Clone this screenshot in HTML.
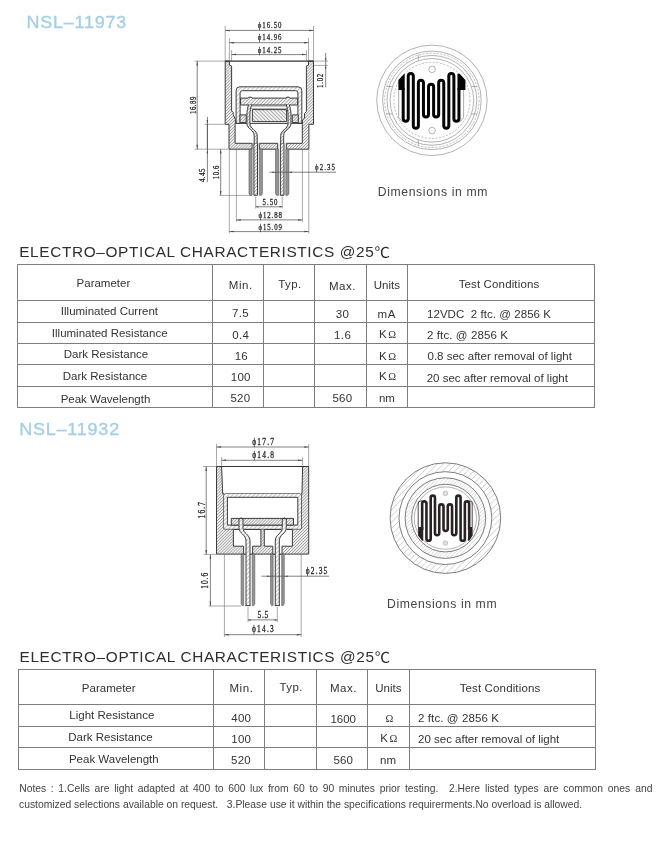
<!DOCTYPE html>
<html lang="en"><head><meta charset="utf-8"><title>NSL-11973 / NSL-11932 photocell datasheet</title>
<style>
html,body{margin:0;padding:0;background:#fff;}
#page{will-change:transform;position:relative;width:668px;height:847px;overflow:hidden;background:#fff;
 font-family:"Liberation Sans","Noto Sans CJK SC",sans-serif;color:#333;}
.abs{position:absolute;white-space:nowrap;margin:0;font-weight:normal;}
h1.model{font-size:18px;line-height:20px;color:#a3cfe5;-webkit-text-stroke:.35px #a3cfe5;letter-spacing:.78px;transform:scaleY(.9);transform-origin:left top;}
h2.sec{font-size:15.4px;line-height:18px;color:#2e2e2e;letter-spacing:.63px;transform:scaleY(.92);transform-origin:left top;}
p.cap{font-size:12.2px;line-height:16px;color:#444;letter-spacing:.62px;}
table.spec{position:absolute;border-collapse:collapse;table-layout:fixed;font-size:11.5px;color:#333;}
table.spec td,table.spec th{border:1px solid #7d7d7d;padding:0;font-weight:normal;text-align:center;vertical-align:top;overflow:hidden;white-space:nowrap;}
table.spec td span,table.spec th span{position:relative;display:inline-block;}
table.spec td.l{text-align:left;}
.om{font-family:"Liberation Serif","DejaVu Serif",serif;font-size:10.5px;}
p.notes{font-size:10.33px;line-height:16.5px;color:#444;}
p.notes .j{position:absolute;top:0;white-space:normal;text-align:justify;text-align-last:justify;}
svg{position:absolute;left:0;top:0;overflow:visible;}
svg text{font-family:"Liberation Serif","DejaVu Serif",serif;fill:#444;}
</style></head>
<body><div id="page">
<h1 class="abs model" id="m1" style="left:26.4px;top:13.7px">NSL–11973</h1>
<svg id="d1" width="668" height="847" viewBox="0 0 668 847"><style>
.o{stroke:#3c3c3c;stroke-width:1;fill:none;stroke-linejoin:round;stroke-linecap:round}
.ot{stroke:#333;stroke-width:1.15;fill:none}
.t{stroke:#666;stroke-width:.55;fill:none}
.d{stroke:#4c4c4c;stroke-width:.7;fill:none}
.e{stroke:#707070;stroke-width:.6;fill:none}
.ah{fill:#444;stroke:none}
.h{stroke:#3c3c3c;stroke-width:1;fill:url(#hx);stroke-linejoin:round}
.h2{stroke:#3c3c3c;stroke-width:1;fill:url(#hy);stroke-linejoin:round}
.hd{stroke:#555;stroke-width:.6;fill:url(#hz)}
.h3{stroke:#3c3c3c;stroke-width:1;fill:url(#hw);stroke-linejoin:round}
.hcan{stroke:#3c3c3c;stroke-width:1;fill:url(#hc);stroke-linejoin:round}
.w{stroke:#3c3c3c;stroke-width:1;fill:#fff;stroke-linejoin:round}
.dt{font-family:"Liberation Serif","DejaVu Serif",serif;fill:#262626;stroke:#262626;stroke-width:.3}
.c{stroke:#808080;stroke-width:.6;fill:none}
.cd{stroke:#8a8a8a;stroke-width:.55;fill:none;stroke-dasharray:2.2 1.4}
.s1{stroke:#050505;stroke-width:3;fill:none;stroke-linejoin:round;stroke-linecap:butt}
.s1p{fill:#050505;stroke:none}
.s2{stroke:#2a2122;stroke-width:2.6;fill:none;stroke-linejoin:round;stroke-linecap:butt}
.s2p{fill:#2a2122;stroke:none}
.c2{stroke:#5c5c5c;stroke-width:.8;fill:none}
.t2{stroke:#2a2122;stroke-width:.85;fill:none}
</style><defs>
<pattern id="hx" width="2.1" height="2.1" patternUnits="userSpaceOnUse" patternTransform="rotate(-45)"><rect width="2.1" height="2.1" fill="#eeeeee"/><line x1="0" y1="1.05" x2="2.1" y2="1.05" stroke="#909090" stroke-width=".6"/></pattern>
<pattern id="hy" width="2.4" height="2.4" patternUnits="userSpaceOnUse" patternTransform="rotate(-45)"><rect width="2.4" height="2.4" fill="#f4f4f4"/><line x1="0" y1="1.2" x2="2.4" y2="1.2" stroke="#8a8a8a" stroke-width=".6"/></pattern>
<pattern id="hz" width="1.5" height="1.5" patternUnits="userSpaceOnUse" patternTransform="rotate(45)"><rect width="1.5" height="1.5" fill="#b4b4b4"/><line x1="0" y1=".75" x2="1.5" y2=".75" stroke="#666" stroke-width=".6"/></pattern>
<pattern id="hc" width="3" height="3" patternUnits="userSpaceOnUse" patternTransform="rotate(-45)"><rect width="3" height="3" fill="#fafafa"/><line x1="0" y1="1.5" x2="3" y2="1.5" stroke="#9a9a9a" stroke-width=".55"/></pattern>
<pattern id="hw" width="2.6" height="2.6" patternUnits="userSpaceOnUse" patternTransform="rotate(45)"><rect width="2.6" height="2.6" fill="#f2f2f2"/><line x1="0" y1="1.3" x2="2.6" y2="1.3" stroke="#888" stroke-width=".6"/></pattern>
</defs>
<line class="e" x1="225.2" y1="26" x2="225.2" y2="61"/>
<line class="e" x1="313.5" y1="26" x2="313.5" y2="61"/>
<line class="e" x1="229.4" y1="38" x2="229.4" y2="61"/>
<line class="e" x1="308.5" y1="38" x2="308.5" y2="61"/>
<line class="e" x1="231.6" y1="50" x2="231.6" y2="61"/>
<line class="e" x1="306.4" y1="50" x2="306.4" y2="61"/>
<line class="d" x1="225.2" y1="30.4" x2="313.5" y2="30.4"/>
<path class="ah" d="M225.2 30.4 L229.6 29.65 L229.6 31.15 Z"/>
<path class="ah" d="M313.5 30.4 L309.1 29.65 L309.1 31.15 Z"/>
<text class="dt" font-size="9.2" text-anchor="middle" textLength="31.89" lengthAdjust="spacing" transform="translate(269.6 28) scale(0.74 1)">ϕ16.50</text>
<line class="d" x1="229.4" y1="42.7" x2="308.5" y2="42.7"/>
<path class="ah" d="M229.4 42.7 L233.8 41.95 L233.8 43.45 Z"/>
<path class="ah" d="M308.5 42.7 L304.1 41.95 L304.1 43.45 Z"/>
<text class="dt" font-size="9.2" text-anchor="middle" textLength="31.89" lengthAdjust="spacing" transform="translate(269.6 40.4) scale(0.74 1)">ϕ14.96</text>
<line class="d" x1="231.6" y1="54.6" x2="306.4" y2="54.6"/>
<path class="ah" d="M231.6 54.6 L236 53.85 L236 55.35 Z"/>
<path class="ah" d="M306.4 54.6 L302 53.85 L302 55.35 Z"/>
<text class="dt" font-size="9.2" text-anchor="middle" textLength="31.89" lengthAdjust="spacing" transform="translate(269.6 52.7) scale(0.74 1)">ϕ14.25</text>
<line class="e" x1="313.6" y1="61.1" x2="328" y2="61.1"/>
<line class="e" x1="313.6" y1="65.4" x2="328" y2="65.4"/>
<line class="d" x1="325.7" y1="53" x2="325.7" y2="87.4"/>
<path class="ah" d="M325.7 61.1 L325 57.9 L326.4 57.9 Z"/>
<path class="ah" d="M325.7 65.4 L325 68.6 L326.4 68.6 Z"/>
<text class="dt" font-size="9.2" text-anchor="middle" textLength="19.19" lengthAdjust="spacing" transform="translate(323.2 80.9) rotate(-90) scale(0.74 1)">1.02</text>
<line class="e" x1="194.5" y1="61.1" x2="225" y2="61.1"/>
<line class="e" x1="194.5" y1="149.2" x2="228.5" y2="149.2"/>
<line class="d" x1="197.2" y1="61.1" x2="197.2" y2="149.2"/>
<path class="ah" d="M197.2 61.1 L196.45 65.5 L197.95 65.5 Z"/>
<path class="ah" d="M197.2 149.2 L196.45 144.8 L197.95 144.8 Z"/>
<text class="dt" font-size="9.2" text-anchor="middle" textLength="23.51" lengthAdjust="spacing" transform="translate(195.5 105.3) rotate(-90) scale(0.74 1)">16.89</text>
<line class="e" x1="204.5" y1="124.3" x2="225" y2="124.3"/>
<line class="e" x1="219.5" y1="195.4" x2="252" y2="195.4"/>
<line class="d" x1="207.4" y1="124.3" x2="207.4" y2="149.2"/>
<path class="ah" d="M207.4 124.3 L206.65 119.9 L208.15 119.9 Z"/>
<path class="ah" d="M207.4 149.2 L206.65 153.6 L208.15 153.6 Z"/>
<line class="d" x1="207.4" y1="116.8" x2="207.4" y2="182"/>
<text class="dt" font-size="9.2" text-anchor="middle" textLength="18.38" lengthAdjust="spacing" transform="translate(205.4 175.3) rotate(-90) scale(0.74 1)">4.45</text>
<line class="d" x1="220.7" y1="149.2" x2="220.7" y2="195.4"/>
<path class="ah" d="M220.7 149.2 L219.95 153.6 L221.45 153.6 Z"/>
<path class="ah" d="M220.7 195.4 L219.95 191 L221.45 191 Z"/>
<text class="dt" font-size="9.2" text-anchor="middle" textLength="18.38" lengthAdjust="spacing" transform="translate(218.7 172.5) rotate(-90) scale(0.74 1)">10.6</text>
<path class="h" d="M225.2 61.1 L229.4 61.1 L229.4 65.2 L231.6 66 L231.6 110.8 L233.2 112.4 L233.2 114.6 L235.4 119.4 L235.4 123.4 L235.1 124.3 L235.1 143.3 L252.1 143.3 L252.1 149.2 L229 149.2 L229 124.3 L225.2 124.3 Z"/>
<path class="h" d="M313.5 61.1 L308.5 61.1 L308.5 65.2 L306.4 66 L306.4 111.5 L304.5 113.5 L304.5 118.2 L302.4 120 L302.4 123.4 L302.3 124.3 L302.3 143.3 L286.3 143.3 L286.3 149.2 L308.9 149.2 L308.9 124.3 L313.5 124.3 Z"/>
<path class="h" d="M259.3 143.3 L277.7 143.3 L277.7 149.2 L259.3 149.2 Z"/>
<line class="ot" x1="225.2" y1="61.1" x2="313.5" y2="61.1"/>
<path class="hd" d="M249 149.2 L249 193.4 L249.9 195.3 L252.1 195.3 L252.1 149.2 Z"/>
<path class="hd" d="M262.4 149.2 L262.4 193.4 L261.5 195.3 L259.3 195.3 L259.3 149.2 Z"/>
<rect class="h2" x="253.9" y="143.3" width="3.6" height="52"/>
<path class="hd" d="M275.5 149.2 L275.5 193.4 L276.4 195.3 L278.6 195.3 L278.6 149.2 Z"/>
<path class="hd" d="M288.9 149.2 L288.9 193.4 L288 195.3 L285.8 195.3 L285.8 149.2 Z"/>
<rect class="h2" x="280.4" y="143.3" width="3.6" height="52"/>
<path class="hcan" d="M236.1 123.4 V90.6 Q236.1 86.8 239.9 86.8 H298 Q301.8 86.8 301.8 90.6 V123.4 H297.9 V92.9 Q297.9 90.7 295.7 90.7 H242.3 Q240.1 90.7 240.1 92.9 V123.4 Z"/>
<path class="h2" d="M240.5 98.1 L248.2 98.1 L248.8 97.2 L251.4 97.2 L252 98.1 L286 98.1 L286.6 97.2 L289.2 97.2 L289.8 98.1 L297.6 98.1 L297.6 105 L240.5 105 Z"/>
<rect class="h" x="240" y="114.9" width="6.2" height="7.7"/>
<rect class="h" x="292.3" y="114.9" width="6" height="7.7"/>
<line class="o" x1="236.1" y1="123.4" x2="302" y2="123.4"/>
<rect class="h3" x="252.4" y="109.6" width="34.2" height="12"/>
<path class="t" d="M251.4 106.2 H287 M250.8 108.6 H287.6"/>
<path d="M250.1 104.8 C249.1 108 248.4 111 248.4 115 V123.5 C248.4 129 255.7 130 255.7 135.5 V143.3" fill="none" stroke="#fff" stroke-width="3.2"/>
<path d="M250.1 104.8 C249.1 108 248.4 111 248.4 115 V123.5 C248.4 129 255.7 130 255.7 135.5 V143.3" fill="none" stroke="url(#hy)" stroke-width="3"/>
<path class="o" d="M251.6 104.8 C250.6 108 249.9 111 249.9 115 V123.5 C249.9 129 257.2 130 257.2 135.5 V143.3 M248.6 104.8 C247.6 108 246.9 111 246.9 115 V123.5 C246.9 129 254.2 130 254.2 135.5 V143.3"/>
<path d="M287.8 104.8 C288.8 108 289.5 111 289.5 115 V123.5 C289.5 129 282.2 130 282.2 135.5 V143.3" fill="none" stroke="#fff" stroke-width="3.2"/>
<path d="M287.8 104.8 C288.8 108 289.5 111 289.5 115 V123.5 C289.5 129 282.2 130 282.2 135.5 V143.3" fill="none" stroke="url(#hy)" stroke-width="3"/>
<path class="o" d="M289.3 104.8 C290.3 108 291 111 291 115 V123.5 C291 129 283.7 130 283.7 135.5 V143.3 M286.3 104.8 C287.3 108 288 111 288 115 V123.5 C288 129 280.7 130 280.7 135.5 V143.3"/>
<line class="e" x1="255.7" y1="196.5" x2="255.7" y2="208.5"/>
<line class="e" x1="282.2" y1="196.5" x2="282.2" y2="208.5"/>
<line class="d" x1="255.7" y1="206.8" x2="282.2" y2="206.8"/>
<path class="ah" d="M255.7 206.8 L258.3 206.05 L258.3 207.55 Z"/>
<path class="ah" d="M282.2 206.8 L279.6 206.05 L279.6 207.55 Z"/>
<text class="dt" font-size="9.2" text-anchor="middle" textLength="20.27" lengthAdjust="spacing" transform="translate(270 205.2) scale(0.74 1)">5.50</text>
<line class="e" x1="236.4" y1="149.5" x2="236.4" y2="222"/>
<line class="e" x1="302.4" y1="149.5" x2="302.4" y2="222"/>
<line class="d" x1="236.4" y1="219.9" x2="302.4" y2="219.9"/>
<path class="ah" d="M236.4 219.9 L240.8 219.15 L240.8 220.65 Z"/>
<path class="ah" d="M302.4 219.9 L298 219.15 L298 220.65 Z"/>
<text class="dt" font-size="9.2" text-anchor="middle" textLength="31.89" lengthAdjust="spacing" transform="translate(270.2 218.2) scale(0.74 1)">ϕ12.88</text>
<line class="e" x1="229.3" y1="149.5" x2="229.3" y2="233.5"/>
<line class="e" x1="308.8" y1="149.5" x2="308.8" y2="233.5"/>
<line class="d" x1="229.3" y1="231.6" x2="308.8" y2="231.6"/>
<path class="ah" d="M229.3 231.6 L233.7 230.85 L233.7 232.35 Z"/>
<path class="ah" d="M308.8 231.6 L304.4 230.85 L304.4 232.35 Z"/>
<text class="dt" font-size="9.2" text-anchor="middle" textLength="31.89" lengthAdjust="spacing" transform="translate(270.2 230) scale(0.74 1)">ϕ15.09</text>
<line class="d" x1="269.5" y1="172.2" x2="336" y2="172.2"/>
<path class="ah" d="M275.5 172.2 L272.5 171.5 L272.5 172.9 Z"/>
<path class="ah" d="M289 172.2 L292 171.5 L292 172.9 Z"/>
<text class="dt" font-size="9.2" text-anchor="middle" textLength="26.76" lengthAdjust="spacing" transform="translate(325 169.6) scale(0.74 1)">ϕ2.35</text>
<circle class="c" cx="431.9" cy="100.35" r="55.2"/>
<circle class="c" cx="431.9" cy="100.35" r="49.3"/>
<circle class="cd" cx="431.9" cy="100.35" r="47.2"/>
<circle class="c" cx="431.9" cy="100.35" r="44.9"/>
<circle class="c" cx="431.9" cy="100.35" r="41.8"/>
<circle class="cd" cx="431.9" cy="100.35" r="38.1"/>
<path class="c" d="M418.3 54.7 V60.4 M418.3 140 V145.7 M386.5 86.5 H392.2 M471.6 86.5 H477.3 M386.5 113.9 H392.2 M471.6 113.9 H477.3"/>
<circle class="c" cx="432.1" cy="69.3" r="3.3"/>
<circle class="c" cx="432.1" cy="130.6" r="3.3"/>
<path class="t" d="M398.7 89.9 V117.5 L403 122.5 M463.6 89.9 V117.5 L459.3 122.5"/>
<path class="s1" d="M403.19 88 V118.87 A2.54 2.54 0 0 0 408.25 118.87 V75.94 A2.54 2.54 0 0 1 413.32 75.94 V125.87 A2.54 2.54 0 0 0 418.39 125.87 V82.73 A2.54 2.54 0 0 1 423.46 82.73 V114.56 A2.54 2.54 0 0 0 428.53 114.56 V86.73 A2.54 2.54 0 0 1 433.61 86.73 V114.56 A2.54 2.54 0 0 0 438.68 114.56 V82.73 A2.54 2.54 0 0 1 443.75 82.73 V125.87 A2.54 2.54 0 0 0 448.81 125.87 V75.94 A2.54 2.54 0 0 1 453.88 75.94 V118.87 A2.54 2.54 0 0 0 458.95 118.87 V88"/>
<path class="s1p" d="M398.4 80 L404.2 73.8 L404.69 73.8 L404.69 89.9 L398.4 89.9 Z"/>
<path class="s1p" d="M465.4 80 L459.6 73.8 L457.45 73.8 L457.45 89.9 L465.4 89.9 Z"/>
</svg>
<p class="abs cap" id="c1" style="left:377.8px;top:183.5px">Dimensions in mm</p>
<h2 class="abs sec" id="s1" style="left:19.2px;top:244.4px">ELECTRO–OPTICAL CHARACTERISTICS @25℃</h2>
<table class="spec" id="t1" style="left:17px;top:264px;width:578px;height:144px">
<colgroup><col style="width:195px"><col style="width:51px"><col style="width:51px"><col style="width:52px"><col style="width:41px"><col style="width:187px"></colgroup>
<tr style="height:36px">
<th><span style="left:-11.6px;top:12.0px;">Parameter</span></th>
<th><span style="left:2.8px;top:14.0px;letter-spacing:0.60px;">Min.</span></th>
<th><span style="left:0.9px;top:13.3px;letter-spacing:0.40px;">Typ.</span></th>
<th><span style="left:1.9px;top:14.6px;letter-spacing:0.50px;">Max.</span></th>
<th><span style="left:-0.2px;top:14.0px;">Units</span></th>
<th><span style="left:-2.0px;top:13.0px;letter-spacing:0.14px;">Test Conditions</span></th>
</tr>
<tr style="height:22px">
<td><span style="left:-5.6px;top:4.0px;">Illuminated Current</span></td>
<td><span style="left:2.5px;top:6.3px;letter-spacing:0.40px;">7.5</span></td>
<td></td>
<td><span style="left:1.9px;top:7.0px;letter-spacing:0.30px;">30</span></td>
<td><span style="left:-0.1px;top:6.7px;letter-spacing:0.80px;">mA</span></td>
<td class="l"><span style="left:19.0px;top:6.6px;letter-spacing:0.05px;">12VDC&nbsp; 2 ftc. @ 2856 K</span></td>
</tr>
<tr style="height:21px">
<td><span style="left:-5.3px;top:3.9px;">Illuminated Resistance</span></td>
<td><span style="left:2.8px;top:5.9px;letter-spacing:0.30px;">0.4</span></td>
<td></td>
<td><span style="left:2.2px;top:6.0px;letter-spacing:0.50px;">1.6</span></td>
<td><span style="left:0.5px;top:5.2px;">K<span class="om" style="margin-left:1.5px">Ω</span></span></td>
<td class="l"><span style="left:19.0px;top:5.7px;letter-spacing:0.10px;">2 ftc. @ 2856 K</span></td>
</tr>
<tr style="height:21px">
<td><span style="left:-9.0px;top:4.2px;">Dark Resistance</span></td>
<td><span style="left:3.2px;top:6.0px;">16</span></td>
<td></td>
<td></td>
<td><span style="left:0.5px;top:5.6px;">K<span class="om" style="margin-left:1.5px">Ω</span></span></td>
<td class="l"><span style="left:19.5px;top:5.7px;">0.8 sec after removal of light</span></td>
</tr>
<tr style="height:22px">
<td><span style="left:-10.0px;top:4.8px;">Dark Resistance</span></td>
<td><span style="left:2.7px;top:6.0px;letter-spacing:0.15px;">100</span></td>
<td></td>
<td></td>
<td><span style="left:0.5px;top:5.4px;">K<span class="om" style="margin-left:1.5px">Ω</span></span></td>
<td class="l"><span style="left:18.7px;top:6.8px;">20 sec after removal of light</span></td>
</tr>
<tr style="height:21px">
<td><span style="left:-9.5px;top:6.0px;">Peak Wavelength</span></td>
<td><span style="left:2.4px;top:5.1px;letter-spacing:0.20px;">520</span></td>
<td></td>
<td><span style="left:1.9px;top:5.0px;letter-spacing:0.20px;">560</span></td>
<td><span style="left:-0.1px;top:5.0px;">nm</span></td>
<td></td>
</tr>
</table>
<h1 class="abs model" id="m2" style="left:19.2px;top:420.8px">NSL–11932</h1>
<svg id="d2" width="668" height="847" viewBox="0 0 668 847">
<line class="e" x1="216.5" y1="444" x2="216.5" y2="466.4"/>
<line class="e" x1="308.7" y1="444" x2="308.7" y2="466.4"/>
<line class="e" x1="221.6" y1="457" x2="221.6" y2="466.4"/>
<line class="e" x1="302.6" y1="457" x2="302.6" y2="466.4"/>
<line class="d" x1="216.5" y1="447" x2="308.7" y2="447"/>
<path class="ah" d="M216.5 447 L220.9 446.25 L220.9 447.75 Z"/>
<path class="ah" d="M308.7 447 L304.3 446.25 L304.3 447.75 Z"/>
<text class="dt" font-size="10" text-anchor="middle" textLength="29.46" lengthAdjust="spacing" transform="translate(263.1 444.6) scale(0.74 1)">ϕ17.7</text>
<line class="d" x1="221.6" y1="460.3" x2="302.6" y2="460.3"/>
<path class="ah" d="M221.6 460.3 L226 459.55 L226 461.05 Z"/>
<path class="ah" d="M302.6 460.3 L298.2 459.55 L298.2 461.05 Z"/>
<text class="dt" font-size="10" text-anchor="middle" textLength="29.46" lengthAdjust="spacing" transform="translate(263.1 457.7) scale(0.74 1)">ϕ14.8</text>
<line class="e" x1="203" y1="466.5" x2="216.4" y2="466.5"/>
<line class="e" x1="203.5" y1="554.4" x2="216.4" y2="554.4"/>
<line class="d" x1="206.2" y1="466.5" x2="206.2" y2="554.4"/>
<path class="ah" d="M206.2 466.5 L205.45 470.9 L206.95 470.9 Z"/>
<path class="ah" d="M206.2 554.4 L205.45 550 L206.95 550 Z"/>
<text class="dt" font-size="10" text-anchor="middle" textLength="22.3" lengthAdjust="spacing" transform="translate(204.6 510.2) rotate(-90) scale(0.74 1)">16.7</text>
<line class="e" x1="208.7" y1="606" x2="241" y2="606"/>
<line class="d" x1="210.4" y1="554.4" x2="210.4" y2="606"/>
<path class="ah" d="M210.4 554.4 L209.65 558.8 L211.15 558.8 Z"/>
<path class="ah" d="M210.4 606 L209.65 601.6 L211.15 601.6 Z"/>
<text class="dt" font-size="10" text-anchor="middle" textLength="21.62" lengthAdjust="spacing" transform="translate(208.3 580.8) rotate(-90) scale(0.74 1)">10.6</text>
<path class="h" d="M216.5 466.5 H221.6 L222.7 493.7 H224.1 V528.8 H301 V493.7 H302 L302.6 466.5 H308.7 V554.1 H216.5 Z"/>
<line class="ot" x1="216.5" y1="466.5" x2="308.7" y2="466.5"/>
<path class="w" d="M233.4 529.5 H260.9 V546.2 H252.6 V554.1 H243.6 V546.2 H233.4 Z"/>
<path class="w" d="M292.4 529.5 H264.3 V546.2 H272.8 V554.1 H282 V546.2 H292.4 Z"/>
<path class="w" d="M224.1 495.7 Q224.1 493.7 226.1 493.7 H299 Q301 493.7 301 495.7 V528.8 H224.1 Z"/>
<path d="M224.1 495.7 Q224.1 493.7 226.1 493.7 H299 Q301 493.7 301 495.7 V528.8 H224.1 Z M227.4 497.7 V525.1 H297.8 V497.7 Z" fill="url(#hc)" fill-rule="evenodd" stroke="none"/>
<path class="o" d="M227.4 497.7 V525.1 H297.8 V497.7 Z"/>
<rect class="h" x="231.3" y="518.4" width="62.2" height="6.7"/>
<path class="hd" d="M241.1 554.1 L241.1 603.5 L242.1 605.6 L243.65 605.6 L243.65 554.1 Z"/>
<path class="hd" d="M254.8 554.1 L254.8 603.5 L253.8 605.6 L252.25 605.6 L252.25 554.1 Z"/>
<path class="hd" d="M270.55 554.1 L270.55 603.5 L271.55 605.6 L273.1 605.6 L273.1 554.1 Z"/>
<path class="hd" d="M284.25 554.1 L284.25 603.5 L283.25 605.6 L281.7 605.6 L281.7 554.1 Z"/>
<path d="M241 519 V527.5 C241 534 248 534 248 541 V605.6" fill="none" stroke="#fff" stroke-width="4.4"/>
<path d="M241 519 V527.5 C241 534 248 534 248 541 V605.6" fill="none" stroke="url(#hc)" stroke-width="4"/>
<path class="o" d="M239 519 V527.5 C239 534 246 534 246 541 V605.6 M243 519 V527.5 C243 534 250 534 250 541 V605.6"/>
<path class="o" d="M239 519 Q241 516.4 243 519"/>
<line class="o" x1="246" y1="605.6" x2="250" y2="605.6"/>
<path d="M284.3 519 V527.5 C284.3 534 277.3 534 277.3 541 V605.6" fill="none" stroke="#fff" stroke-width="4.4"/>
<path d="M284.3 519 V527.5 C284.3 534 277.3 534 277.3 541 V605.6" fill="none" stroke="url(#hc)" stroke-width="4"/>
<path class="o" d="M282.3 519 V527.5 C282.3 534 275.3 534 275.3 541 V605.6 M286.3 519 V527.5 C286.3 534 279.3 534 279.3 541 V605.6"/>
<path class="o" d="M282.3 519 Q284.3 516.4 286.3 519"/>
<line class="o" x1="275.3" y1="605.6" x2="279.3" y2="605.6"/>
<line class="e" x1="248" y1="607" x2="248" y2="622"/>
<line class="e" x1="277.3" y1="607" x2="277.3" y2="622"/>
<line class="d" x1="248" y1="619.9" x2="277.3" y2="619.9"/>
<path class="ah" d="M248 619.9 L250.6 619.15 L250.6 620.65 Z"/>
<path class="ah" d="M277.3 619.9 L274.7 619.15 L274.7 620.65 Z"/>
<text class="dt" font-size="10" text-anchor="middle" textLength="14.59" lengthAdjust="spacing" transform="translate(262.8 617.8) scale(0.74 1)">5.5</text>
<line class="e" x1="224.4" y1="554.4" x2="224.4" y2="637"/>
<line class="e" x1="301.2" y1="554.4" x2="301.2" y2="637"/>
<line class="d" x1="224.4" y1="634.7" x2="301.2" y2="634.7"/>
<path class="ah" d="M224.4 634.7 L228.8 633.95 L228.8 635.45 Z"/>
<path class="ah" d="M301.2 634.7 L296.8 633.95 L296.8 635.45 Z"/>
<text class="dt" font-size="10" text-anchor="middle" textLength="29.46" lengthAdjust="spacing" transform="translate(262.8 631.6) scale(0.74 1)">ϕ14.3</text>
<line class="d" x1="261.5" y1="576.2" x2="329" y2="576.2"/>
<path class="ah" d="M270.2 576.2 L267.2 575.5 L267.2 576.9 Z"/>
<path class="ah" d="M284.6 576.2 L287.6 575.5 L287.6 576.9 Z"/>
<text class="dt" font-size="10" text-anchor="middle" textLength="29.05" lengthAdjust="spacing" transform="translate(316.5 574.1) scale(0.74 1)">ϕ2.35</text>
<path d="M397.43 491.4L418.7 470.13M392.85 502.2L429.5 465.55M391.07 510.2L403.01 498.26M425.56 475.71L437.5 463.77M390.51 516.99L399.76 507.73M435.03 472.46L444.29 463.21M390.72 523L398.7 515.02M442.32 471.4L450.3 463.42M391.49 528.46L398.71 521.24M448.54 471.41L455.76 464.19M392.7 533.47L399.41 526.76M454.06 472.11L460.77 465.4M394.28 538.11L400.64 531.75M459.05 473.34L465.41 466.98M396.18 542.43L402.29 536.32M463.62 474.99L469.73 468.88M398.38 546.45L404.32 540.52M467.82 477.02L473.75 471.08M400.86 550.2L406.68 544.38M471.68 479.38L477.5 473.56M403.59 553.68L409.34 547.93M475.23 482.04L480.98 476.29M406.58 556.92L412.31 551.19M478.49 485.01L484.22 479.28M409.82 559.91L415.57 554.16M481.46 488.27L487.21 482.52M413.3 562.64L419.12 556.82M484.12 491.82L489.94 486M417.05 565.12L422.98 559.18M486.48 495.68L492.42 489.75M421.07 567.32L427.18 561.21M488.51 499.88L494.62 493.77M425.39 569.22L431.75 562.86M490.16 504.45L496.52 498.09M430.03 570.8L436.74 564.09M491.39 509.44L498.1 502.73M435.04 572.01L442.26 564.79M492.09 514.96L499.31 507.74M440.5 572.78L448.48 564.8M492.1 521.18L500.08 513.2M446.51 572.99L455.77 563.74M491.04 528.47L500.29 519.21M453.3 572.43L465.24 560.49M487.79 537.94L499.73 526M461.3 570.65L497.95 534M472.1 566.07L493.37 544.8" fill="none" stroke="#a4a4a4" stroke-width="0.55"/>
<path d="M411.86 496.48L423.78 484.56M408.11 503.92L431.22 480.81M406.51 509.19L417.81 497.89M425.19 490.51L436.49 479.21M405.75 513.62L413.43 505.94M433.24 486.13L440.92 478.45M405.5 517.55L411.92 511.14M438.44 484.62L444.85 478.2M405.61 521.12L411.3 515.43M442.73 484L448.42 478.31M406 524.41L411.22 519.19M446.49 483.92L451.71 478.7M406.62 527.47L411.5 522.59M449.89 484.2L454.77 479.32M407.42 530.34L412.06 525.71M453.01 484.76L457.64 480.12M408.4 533.04L412.85 528.59M455.89 485.55L460.34 481.1M409.53 535.58L413.84 531.28M458.58 486.54L462.88 482.23M410.81 537.98L415.01 533.78M461.08 487.71L465.28 483.51M412.22 540.25L416.34 536.13M463.43 489.04L467.55 484.92M413.75 542.4L417.82 538.32M465.62 490.52L469.7 486.45M415.41 544.42L419.45 540.37M467.67 492.15L471.72 488.11M417.19 546.31L421.22 542.28M469.58 493.92L473.61 489.89M419.08 548.09L423.13 544.05M471.35 495.83L475.39 491.78M421.1 549.75L425.18 545.68M472.98 497.88L477.05 493.8M423.25 551.28L427.37 547.16M474.46 500.07L478.58 495.95M425.52 552.69L429.72 548.49M475.79 502.42L479.99 498.22M427.92 553.97L432.22 549.66M476.96 504.92L481.27 500.62M430.46 555.1L434.91 550.65M477.95 507.61L482.4 503.16M433.16 556.08L437.79 551.44M478.74 510.49L483.38 505.86M436.03 556.88L440.91 552M479.3 513.61L484.18 508.73M439.09 557.5L444.31 552.28M479.58 517.01L484.8 511.79M442.38 557.89L448.07 552.2M479.5 520.77L485.19 515.08M445.95 558L452.36 551.58M478.88 525.06L485.3 518.65M449.88 557.75L457.56 550.07M477.37 530.26L485.05 522.58M454.31 556.99L465.61 545.69M472.99 538.31L484.29 527.01M459.58 555.39L482.69 532.28M467.02 551.64L478.94 539.72" fill="none" stroke="#b4b4b4" stroke-width="0.5"/>
<circle class="c2" cx="445.4" cy="518.1" r="55.3"/>
<circle class="c2" cx="445.4" cy="518.1" r="46.4"/>
<circle class="c2" cx="445.4" cy="518.1" r="40.3"/>
<circle class="c2" cx="445.4" cy="518.1" r="33.8"/>
<circle class="c" cx="445.4" cy="518.1" r="31.2"/>
<circle cx="445.4" cy="493.4" r="2.3" fill="#e0e0e0" stroke="#999" stroke-width=".5"/>
<circle cx="445.4" cy="543" r="2.3" fill="#e0e0e0" stroke="#999" stroke-width=".5"/>
<path class="s2" d="M422.16 530 V503.53 A2.13 2.13 0 0 1 426.44 503.53 V538.66 A2.13 2.13 0 0 0 430.7 538.66 V497.74 A2.13 2.13 0 0 1 434.97 497.74 V533.07 A2.13 2.13 0 0 0 439.25 533.07 V506.53 A2.13 2.13 0 0 1 443.51 506.53 V528.87 A2.13 2.13 0 0 0 447.78 528.87 V506.53 A2.13 2.13 0 0 1 452.05 506.53 V533.07 A2.13 2.13 0 0 0 456.32 533.07 V497.74 A2.13 2.13 0 0 1 460.59 497.74 V538.66 A2.13 2.13 0 0 0 464.86 538.66 V503.53 A2.13 2.13 0 0 1 469.13 503.53 V530"/>
<path class="s2p" d="M418.1 527 L423.26 527 L423.26 540.8 L421.96 540.8 L418.1 535.4 Z"/>
<path class="s2p" d="M472.6 527 L468.03 527 L468.03 540.8 L469.33 540.8 L472.6 535.4 Z"/>
<path class="t2" d="M418.2 527 V502.2 L421.66 500.6 M472.2 527 V502.2 L469.63 500.6"/>
</svg>
<p class="abs cap" id="c2" style="left:387px;top:595.8px">Dimensions in mm</p>
<h2 class="abs sec" id="s2" style="left:19.5px;top:649.2px">ELECTRO–OPTICAL CHARACTERISTICS @25℃</h2>
<table class="spec" id="t2" style="left:18px;top:669px;width:578px;height:101px">
<colgroup><col style="width:195px"><col style="width:51px"><col style="width:52px"><col style="width:51px"><col style="width:42px"><col style="width:186px"></colgroup>
<tr style="height:35px">
<th><span style="left:-7.3px;top:11.8px;">Parameter</span></th>
<th><span style="left:2.5px;top:11.7px;letter-spacing:0.60px;">Min.</span></th>
<th><span style="left:0.7px;top:10.6px;letter-spacing:0.40px;">Typ.</span></th>
<th><span style="left:1.4px;top:12.0px;letter-spacing:0.50px;">Max.</span></th>
<th><span style="left:-0.2px;top:11.6px;">Units</span></th>
<th><span style="left:-2.5px;top:12.0px;letter-spacing:0.14px;">Test Conditions</span></th>
</tr>
<tr style="height:22px">
<td><span style="left:-4.2px;top:4.3px;">Light Resistance</span></td>
<td><span style="left:2.2px;top:7.0px;letter-spacing:0.15px;">400</span></td>
<td></td>
<td><span style="left:1.2px;top:7.6px;">1600</span></td>
<td><span style="left:0.8px;top:6.6px;"><span class="om">Ω</span></span></td>
<td class="l"><span style="left:8.0px;top:7.0px;letter-spacing:0.10px;">2 ftc. @ 2856 K</span></td>
</tr>
<tr style="height:21px">
<td><span style="left:-5.5px;top:4.3px;">Dark Resistance</span></td>
<td><span style="left:2.2px;top:6.0px;letter-spacing:0.15px;">100</span></td>
<td></td>
<td></td>
<td><span style="left:0.3px;top:5.3px;">K<span class="om" style="margin-left:1.5px">Ω</span></span></td>
<td class="l"><span style="left:8.0px;top:6.0px;">20 sec after removal of light</span></td>
</tr>
<tr style="height:22px">
<td><span style="left:-2.2px;top:5.0px;">Peak Wavelength</span></td>
<td><span style="left:2.0px;top:6.0px;letter-spacing:0.20px;">520</span></td>
<td></td>
<td><span style="left:1.3px;top:6.0px;letter-spacing:0.20px;">560</span></td>
<td><span style="left:-0.4px;top:6.0px;">nm</span></td>
<td></td>
</tr>
</table>
<p class="abs notes" id="n1" style="left:19.2px;top:781px;width:633.3px;height:16.5px"><span class="j" style="left:0;width:419.1px">Notes : 1.Cells are light adapted at 400 to 600 lux from 60 to 90 minutes prior testing.</span><span class="j" style="left:429.8px;width:203.4px">2.Here listed types are common ones and</span></p>
<p class="abs notes" id="n2" style="left:19px;top:797px">customized selections available on request. &nbsp; 3.Please use it within the specifications requirerments.No overload is allowed.</p>
</div></body></html>
